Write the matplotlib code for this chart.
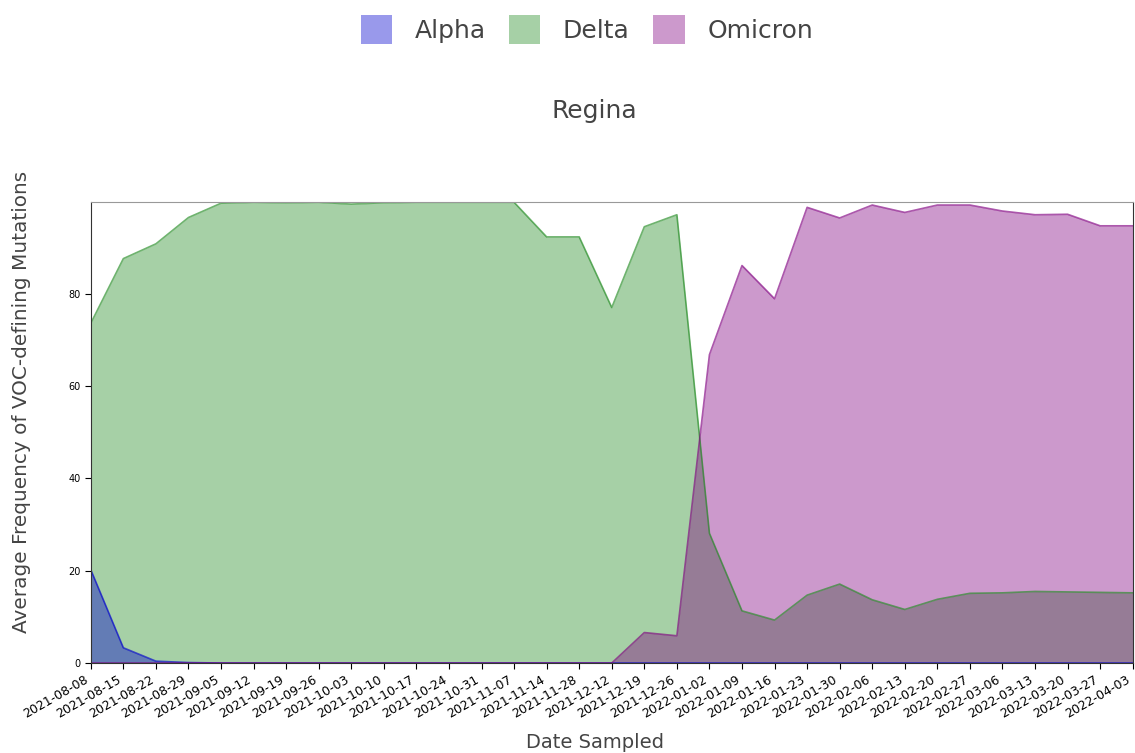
import matplotlib
matplotlib.use("Agg")
import matplotlib.pyplot as plt
from matplotlib.patches import Patch
import numpy as np

dates = ["2021-08-08", "2021-08-15", "2021-08-22", "2021-08-29", "2021-09-05",
         "2021-09-12", "2021-09-19", "2021-09-26", "2021-10-03", "2021-10-10",
         "2021-10-17", "2021-10-24", "2021-10-31", "2021-11-07", "2021-11-14",
         "2021-11-28", "2021-12-12", "2021-12-19", "2021-12-26", "2022-01-02",
         "2022-01-09", "2022-01-16", "2022-01-23", "2022-01-30", "2022-02-06",
         "2022-02-13", "2022-02-20", "2022-02-27", "2022-03-06", "2022-03-13",
         "2022-03-20", "2022-03-27", "2022-04-03"]

alpha_vals = [20.2, 3.3, 0.4, 0.1, 0, 0, 0, 0, 0, 0, 0, 0, 0, 0, 0, 0, 0,
              0, 0, 0, 0, 0, 0, 0, 0, 0, 0, 0, 0, 0, 0, 0, 0]
delta_vals = [73.6, 87.6, 90.8, 96.5, 99.6, 99.8, 99.7, 99.8, 99.4, 99.7,
              99.8, 99.8, 99.8, 99.8, 92.3, 92.3, 77.0, 94.5, 97.1, 28.1,
              11.3, 9.3, 14.7, 17.1, 13.7, 11.6, 13.8, 15.1, 15.2, 15.5,
              15.4, 15.3, 15.2]
omicron_vals = [0, 0, 0, 0, 0, 0, 0, 0, 0, 0, 0, 0, 0, 0, 0, 0, 0,
                6.6, 5.9, 66.8, 86.1, 78.9, 98.7, 96.4, 99.2, 97.6, 99.2,
                99.2, 97.9, 97.1, 97.2, 94.7, 94.7]

series = [("Delta", delta_vals, "#228b22"),
          ("Alpha", alpha_vals, "#0000cd"),
          ("Omicron", omicron_vals, "#800080")]

fig = plt.figure(figsize=(11.35, 7.53), dpi=100)
ax = fig.add_axes([0.080, 0.1195, 0.918, 0.6125])

x = np.arange(len(dates))
for name, vals, col in series:
    ax.fill_between(x, 0, vals, color=col, alpha=0.4, linewidth=0)
    ax.plot(x, vals, color=col, alpha=0.65, linewidth=1.2)

ax.set_xlim(0, len(dates) - 1)
ax.set_ylim(0, 99.9)
ax.set_yticks([0, 20, 40, 60, 80])
ax.tick_params(axis="y", labelsize=7, length=4)
ax.set_xticks(x)
ax.set_xticklabels(dates, rotation=30, ha="right", fontsize=9)
ax.tick_params(axis="x", length=4)

for s in ["left", "bottom", "right"]:
    ax.spines[s].set_color("#333333")
ax.spines["top"].set_color("#999999")

fig.text(0.019, 1 - 402 / 753, "Average Frequency of VOC-defining Mutations",
         fontsize=14.4, color="#444444", rotation=90, ha="center", va="center")
fig.text(0.524, 1 - 742 / 753, "Date Sampled", fontsize=14, color="#444444",
         ha="center", va="center")
fig.text(0.524, 0.852, "Regina", fontsize=18, color="#444444", ha="center", va="center")

handles = [Patch(facecolor="#0000cd", alpha=0.4, edgecolor="none"),
           Patch(facecolor="#228b22", alpha=0.4, edgecolor="none"),
           Patch(facecolor="#800080", alpha=0.4, edgecolor="none")]
leg = fig.legend(handles, ["Alpha", "Delta", "Omicron"], loc="center",
                 bbox_to_anchor=(0.517, 0.961), ncol=3, frameon=False,
                 fontsize=18, handlelength=1.25, handleheight=1.4,
                 handletextpad=0.9, columnspacing=0.95)
for t in leg.get_texts():
    t.set_color("#444444")

fig.savefig("out.png", dpi=100)
